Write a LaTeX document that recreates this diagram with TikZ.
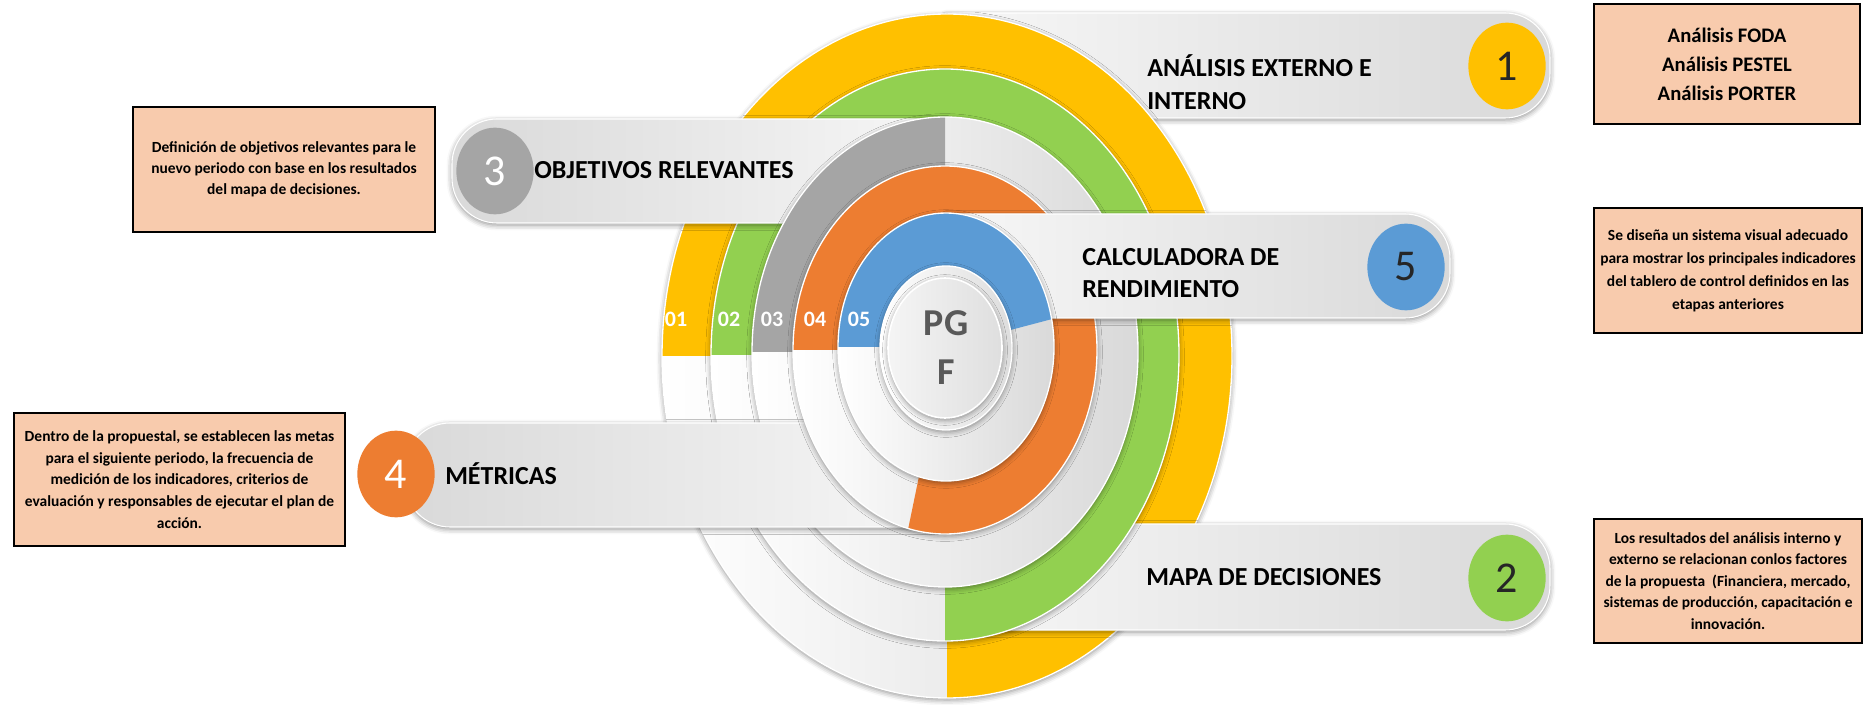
\documentclass[tikz,border=0pt]{standalone}
\usepackage{fontspec}
\setmainfont{Carlito}
\usetikzlibrary{shapes.geometric,shadows.blur}
\definecolor{cyel}{HTML}{FFC000}
\definecolor{cgrn}{HTML}{92D050}
\definecolor{cgry}{HTML}{A5A5A5}
\definecolor{corg}{HTML}{ED7D31}
\definecolor{cblu}{HTML}{5B9BD5}
\definecolor{peach}{HTML}{F8CBAD}
\definecolor{ctxt}{HTML}{595959}
\definecolor{lightB}{HTML}{D9D9D9}
\definecolor{bnA}{HTML}{F7F7F7}
\definecolor{bnB}{HTML}{D9D9D9}
\tikzset{
  softshadow/.style={blur shadow={shadow xshift=0pt, shadow yshift=-1.5pt, shadow blur radius=4pt, shadow opacity=45}},
  ringlight/.style={left color=white, right color=lightB, softshadow},
  ringedge/.style={draw=white, line width=1pt},
  bnR/.style={left color=bnA, right color=bnB, draw=white, line width=0.8pt, softshadow},
  bnL/.style={left color=bnB, right color=bnA, draw=white, line width=0.8pt, softshadow},
  numc/.style={ellipse, inner sep=0pt, minimum width=58pt, minimum height=65pt, font=\fontsize{33pt}{33pt}\selectfont},
  ttl/.style={anchor=west, inner sep=0pt, align=left, font=\bfseries\fontsize{19.5pt}{24.5pt}\selectfont},
  desc/.style={draw=black, line width=2.2pt, fill=peach, align=center, inner sep=0pt},
  rlab/.style={text=white, inner sep=0pt, font=\bfseries\fontsize{16.5pt}{16.5pt}\selectfont},
}
\begin{document}
\begin{tikzpicture}[x=0.75pt,y=-0.75pt]
\useasboundingbox (0,0) rectangle (1865,705);

% banner 1
\path[bnR] (946,13) -- (1505,13) arc[start angle=-90,end angle=0,radius=45] -- (1550,73) arc[start angle=0,end angle=90,radius=45] -- (946,118) -- cycle;
\node[numc, fill=cyel, text=black!85] (n1) at (1507,66) {1};
\node[ttl] (t1) at (1147,82) {ANÁLISIS EXTERNO E\\INTERNO};

% ring 01 yellow
\fill[ringlight] (947,356) ellipse [x radius=285, y radius=342];
\fill[cyel] (947,356) -- +(-180:285 and 342) arc[start angle=-180,end angle=90,x radius=285,y radius=342] -- cycle;
\draw[ringedge] (947,356) ellipse [x radius=285, y radius=342];

% banner 2
\path[bnR] (946,524) -- (1505,524) arc[start angle=-90,end angle=0,radius=45] -- (1550,585) arc[start angle=0,end angle=90,radius=45] -- (946,630) -- cycle;
\node[numc, fill=cgrn, text=black!85] (n2) at (1507,578) {2};
\node[ttl] (t2) at (1146,577) {MAPA DE DECISIONES};

% ring 02 green
\fill[ringlight] (945,355) ellipse [x radius=234, y radius=286];
\fill[cgrn] (945,355) -- +(-180:234 and 286) arc[start angle=-180,end angle=90,x radius=234,y radius=286] -- cycle;
\draw[ringedge] (945,355) ellipse [x radius=234, y radius=286];

% banner 3
\path[bnL] (948,119) -- (497,119) arc[start angle=-90,end angle=-180,radius=45] -- (452,178) arc[start angle=180,end angle=90,radius=45] -- (948,223) -- cycle;
\node[numc, fill=cgry, text=white] (n3) at (495,171) {3};
\node[ttl] (t3) at (534,170) {OBJETIVOS RELEVANTES};

% ring 03 gray
\fill[ringlight] (945,352) ellipse [x radius=193, y radius=235];
\fill[cgry] (945,352) -- +(-180:193 and 235) arc[start angle=-180,end angle=-90,x radius=193,y radius=235] -- cycle;
\draw[ringedge] (945,352) ellipse [x radius=193, y radius=235];

% banner 4
\path[bnL] (946,423) -- (450,423) arc[start angle=-90,end angle=-180,radius=45] -- (405,482) arc[start angle=180,end angle=90,radius=45] -- (946,527) -- cycle;
\node[numc, fill=corg, text=white] (n4) at (396,474) {4};
\node[ttl] (t4) at (445,474) {MÉTRICAS};

% ring 04 orange
\fill[ringlight] (945,350) ellipse [x radius=152, y radius=184];
\fill[corg] (945,350) -- +(-180:152 and 184) arc[start angle=-180,end angle=104,x radius=152,y radius=184] -- cycle;
\draw[ringedge] (945,350) ellipse [x radius=152, y radius=184];

% banner 5
\path[bnR] (946,214) -- (1405,214) arc[start angle=-90,end angle=0,radius=45] -- (1450,273) arc[start angle=0,end angle=90,radius=45] -- (946,318) -- cycle;
\node[numc, fill=cblu, text=black!85] (n5) at (1406,267) {5};
\node[ttl] (t5) at (1082,273) {CALCULADORA DE\\RENDIMIENTO};

% ring 05 blue
\fill[ringlight] (946,347) ellipse [x radius=108, y radius=134];
\fill[cblu] (946,347) -- +(-180:108 and 134) arc[start angle=-180,end angle=-12,x radius=108,y radius=134] -- cycle;
\draw[ringedge] (946,347) ellipse [x radius=108, y radius=134];

% center
\fill[left color=white, right color=lightB!90!white, softshadow] (946,348) ellipse [x radius=66, y radius=82];
\draw[ringedge] (946,348) ellipse [x radius=66, y radius=82];
\fill[left color=white!96!black, right color=lightB!85!white, softshadow] (945,348) ellipse [x radius=57, y radius=70];
\draw[white, line width=1.2pt] (945,348) ellipse [x radius=57, y radius=70];
\node[text=ctxt, align=center, inner sep=0pt, font=\bfseries\fontsize{28.5pt}{36.75pt}\selectfont] (pgf) at (946,348) {PG\\F};

% ring labels
\node[rlab] (l1) at (676,319) {01};
\node[rlab] (l2) at (729,319) {02};
\node[rlab] (l3) at (772,319) {03};
\node[rlab] (l4) at (815,319) {04};
\node[rlab] (l5) at (859,319) {05};

% description boxes
\node[desc, minimum width=199.5pt, minimum height=90pt, font=\bfseries\fontsize{15.5pt}{21.75pt}\selectfont] (b1) at (1727,64) {Análisis FODA\\Análisis PESTEL\\Análisis PORTER};
\node[desc, minimum width=226.5pt, minimum height=93.75pt, font=\bfseries\fontsize{11.6pt}{15.75pt}\selectfont] (b3) at (284,169.5) {Definición de objetivos relevantes para le\\nuevo periodo con base en los resultados\\del mapa de decisiones.};
\node[desc, minimum width=201pt, minimum height=93.75pt, font=\bfseries\fontsize{11.6pt}{17.25pt}\selectfont] (b5) at (1728,270.5) {Se diseña un sistema visual adecuado\\para mostrar los principales indicadores\\del tablero de control definidos en las\\etapas anteriores};
\node[desc, minimum width=248.25pt, minimum height=99.75pt, font=\bfseries\fontsize{11.6pt}{16.3pt}\selectfont] (b4) at (179.5,479.5) {Dentro de la propuestal, se establecen las metas\\para el siguiente periodo, la frecuencia de\\medición de los indicadores, criterios de\\evaluación y responsables de ejecutar el plan de\\acción.};
\node[desc, minimum width=201pt, minimum height=93pt, font=\bfseries\fontsize{11.6pt}{16.1pt}\selectfont] (b2) at (1728,581) {Los resultados del análisis interno y\\externo se relacionan conlos factores\\de la propuesta~ (Financiera, mercado,\\sistemas de producción, capacitación e\\innovación.};
\end{tikzpicture}
\end{document}
